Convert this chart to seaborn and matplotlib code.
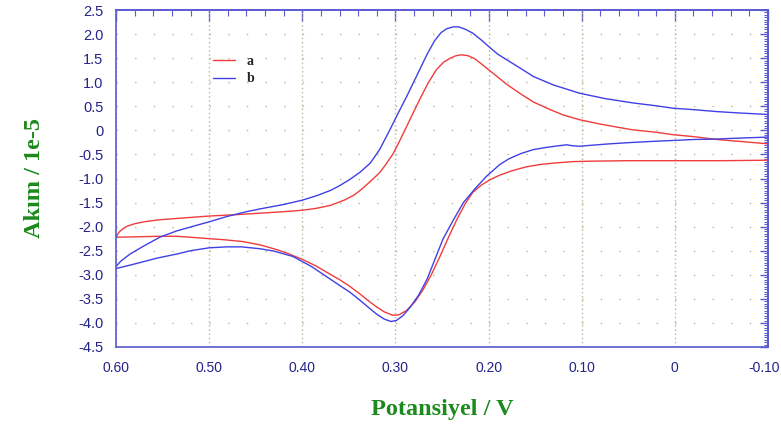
import numpy as np
import pandas as pd
import matplotlib
matplotlib.use("Agg")
import matplotlib.pyplot as plt
from matplotlib.ticker import FixedLocator, MultipleLocator, FixedFormatter
from matplotlib.transforms import ScaledTranslation
import seaborn as sns

# ---- data (potential V, current x1e-5 A) ----
a_V = [0.600, 0.597, 0.593, 0.588, 0.580, 0.570, 0.555, 0.535, 0.500, 0.470, 0.445, 0.420,
       0.400, 0.385, 0.370, 0.355, 0.345, 0.338, 0.328, 0.317, 0.310, 0.302, 0.295, 0.288,
       0.281, 0.274, 0.265, 0.256, 0.248, 0.241, 0.235, 0.229, 0.222, 0.215, 0.209, 0.200,
       0.191, 0.180, 0.165, 0.152, 0.135, 0.120, 0.102, 0.080, 0.060, 0.045, 0.020, 0.002,
       -0.020, -0.045, -0.070, -0.100,
       -0.100, -0.050, 0.000, 0.050, 0.090, 0.110, 0.130, 0.145, 0.160, 0.175, 0.188, 0.198,
       0.208, 0.217, 0.225, 0.234, 0.243, 0.252, 0.261, 0.270, 0.279, 0.288, 0.296, 0.303,
       0.312, 0.320, 0.327, 0.338, 0.349, 0.360, 0.370, 0.385, 0.400, 0.415, 0.427, 0.445,
       0.464, 0.485, 0.500, 0.520, 0.535, 0.555, 0.575, 0.600]
a_I = [-2.22, -2.12, -2.05, -1.99, -1.94, -1.90, -1.86, -1.83, -1.78, -1.75, -1.72, -1.69,
       -1.66, -1.62, -1.56, -1.45, -1.35, -1.25, -1.08, -0.88, -0.70, -0.47, -0.20, 0.08,
       0.36, 0.64, 0.98, 1.26, 1.42, 1.50, 1.55, 1.57, 1.55, 1.49, 1.40, 1.26,
       1.12, 0.95, 0.75, 0.59, 0.44, 0.32, 0.22, 0.13, 0.06, 0.01, -0.04, -0.09,
       -0.13, -0.19, -0.23, -0.28,
       -0.62, -0.63, -0.63, -0.63, -0.64, -0.65, -0.68, -0.71, -0.76, -0.84, -0.93, -1.02,
       -1.14, -1.29, -1.52, -1.85, -2.22, -2.61, -2.98, -3.30, -3.56, -3.74, -3.83, -3.84,
       -3.77, -3.67, -3.57, -3.40, -3.24, -3.10, -2.99, -2.82, -2.68, -2.56, -2.48, -2.38,
       -2.31, -2.27, -2.25, -2.22, -2.20, -2.20, -2.21, -2.22]

b_V = [0.600, 0.595, 0.585, 0.570, 0.553, 0.535, 0.515, 0.500, 0.481, 0.460, 0.445, 0.420,
       0.400, 0.385, 0.370, 0.360, 0.349, 0.338, 0.327, 0.317, 0.306, 0.297, 0.288, 0.281,
       0.274, 0.266, 0.258, 0.251, 0.245, 0.238, 0.232, 0.225, 0.217, 0.208, 0.198, 0.190,
       0.180, 0.165, 0.152, 0.130, 0.102, 0.075, 0.045, 0.020, 0.002, -0.020, -0.045, -0.070,
       -0.100,
       -0.100, -0.070, -0.045, -0.020, 0.002, 0.025, 0.045, 0.070, 0.090, 0.102, 0.110, 0.116,
       0.125, 0.140, 0.152, 0.165, 0.178, 0.188, 0.202, 0.214, 0.227, 0.238, 0.249, 0.258,
       0.266, 0.275, 0.284, 0.292, 0.299, 0.305, 0.312, 0.320, 0.327, 0.338, 0.349, 0.360,
       0.370, 0.390, 0.410, 0.430, 0.445, 0.465, 0.481, 0.500, 0.520, 0.535, 0.555, 0.571,
       0.585, 0.600]
b_I = [-2.83, -2.72, -2.57, -2.40, -2.22, -2.09, -1.98, -1.90, -1.79, -1.69, -1.63, -1.54,
       -1.45, -1.36, -1.25, -1.15, -1.02, -0.87, -0.68, -0.40, 0.01, 0.36, 0.70, 0.98,
       1.26, 1.58, 1.86, 2.03, 2.11, 2.15, 2.15, 2.10, 2.02, 1.88, 1.71, 1.58,
       1.46, 1.28, 1.12, 0.94, 0.77, 0.66, 0.57, 0.51, 0.46, 0.43, 0.39, 0.36,
       0.33,
       -0.14, -0.16, -0.18, -0.19, -0.21, -0.23, -0.25, -0.28, -0.31, -0.33, -0.32, -0.30,
       -0.32, -0.36, -0.40, -0.48, -0.59, -0.71, -0.95, -1.20, -1.50, -1.87, -2.26, -2.70,
       -3.09, -3.42, -3.67, -3.85, -3.95, -3.97, -3.92, -3.82, -3.71, -3.53, -3.36, -3.22,
       -3.09, -2.83, -2.62, -2.51, -2.46, -2.42, -2.42, -2.44, -2.50, -2.57, -2.65, -2.73,
       -2.80, -2.87]

x_ticks = [0.60, 0.50, 0.40, 0.30, 0.20, 0.10, 0.0, -0.10]
x_tick_labels = ["0.60", "0.50", "0.40", "0.30", "0.20", "0.10", "0", "-0.10"]
y_ticks = [2.5, 2.0, 1.5, 1.0, 0.5, 0.0, -0.5, -1.0, -1.5, -2.0, -2.5, -3.0, -3.5, -4.0, -4.5]
y_tick_labels = ["2.5", "2.0", "1.5", "1.0", "0.5", "0", "-0.5", "-1.0", "-1.5", "-2.0",
                 "-2.5", "-3.0", "-3.5", "-4.0", "-4.5"]
series_names = ["a", "b"]

df = pd.concat([
    pd.DataFrame({"V": a_V, "I": a_I, "series": series_names[0]}),
    pd.DataFrame({"V": b_V, "I": b_I, "series": series_names[1]}),
], ignore_index=True)

sns.set_theme(style="white")
plt.rcParams['font.family'] = ['Liberation Sans', 'DejaVu Sans']

fig = plt.figure(figsize=(7.81, 4.26), dpi=100)
ax = fig.add_axes([116/781, 1-347/426, (768-116)/781, (347-10)/426])

spine_c = "#5a5ad2"
label_c = "#23238c"
grid_c = "#b8b89a"

sns.lineplot(data=df, x="V", y="I", hue="series", sort=False, estimator=None,
             palette={"a": "#f03c3c", "b": "#4040e6"}, linewidth=1.0, ax=ax)

ax.set_xlim(0.60, -0.10)
ax.set_ylim(-4.5, 2.5)

ax.xaxis.set_major_locator(FixedLocator(x_ticks))
ax.xaxis.set_major_formatter(FixedFormatter(x_tick_labels))
ax.xaxis.set_minor_locator(MultipleLocator(0.02))
ax.yaxis.set_major_locator(FixedLocator(y_ticks))
ax.yaxis.set_major_formatter(FixedFormatter(y_tick_labels))
ax.yaxis.set_minor_locator(MultipleLocator(0.05))

ax.tick_params(axis="both", which="major", direction="out", length=6, width=1,
               color=spine_c, labelcolor=label_c)
ax.tick_params(axis="x", which="major", labelsize=10, pad=4)
ax.tick_params(axis="y", which="major", labelsize=10.5, pad=3)
ax.tick_params(axis="both", which="minor", direction="out", length=3, width=0.8,
               color=spine_c)

for s in ax.spines.values():
    s.set_color(spine_c)
    s.set_linewidth(1.2)
    s.set_visible(True)

# mirrored inward ticks on top and right
secx = ax.secondary_xaxis("top")
secx.xaxis.set_major_locator(FixedLocator(x_ticks))
secx.xaxis.set_minor_locator(MultipleLocator(0.02))
secx.tick_params(which="major", direction="in", length=8, width=1, color=spine_c, labeltop=False)
secx.tick_params(which="minor", direction="in", length=4, width=0.8, color=spine_c)
secx.spines["top"].set_color(spine_c)
secx.spines["top"].set_linewidth(1.2)

secy = ax.secondary_yaxis("right")
secy.yaxis.set_major_locator(FixedLocator(y_ticks))
secy.yaxis.set_minor_locator(MultipleLocator(0.05))
secy.tick_params(which="major", direction="in", length=6, width=1, color=spine_c, labelright=False)
secy.tick_params(which="minor", direction="in", length=3, width=0.8, color=spine_c)
secy.spines["right"].set_color(spine_c)
secy.spines["right"].set_linewidth(1.2)

# grid: dotted verticals at major x, sparse dots on major y
ax.xaxis.grid(True, which="major", color=grid_c, linestyle=(0, (1, 2)), linewidth=1)
ax.yaxis.grid(True, which="major", color=grid_c, linestyle=(0, (1, 12.41)), linewidth=1)
ax.set_axisbelow(True)

ax.set_xlabel("Potansiyel / V", fontsize=17.5, fontweight="bold", color="#1d8a1d",
              family=["Liberation Serif"], labelpad=17)
ax.set_ylabel("Akım / 1e-5", fontsize=17.5, fontweight="bold", color="#1d8a1d",
              family=["Liberation Serif"], labelpad=24)

leg = ax.legend(loc="upper left", bbox_to_anchor=(0.13, 0.905), frameon=False,
                handlelength=1.6, handletextpad=0.8, labelspacing=0.35,
                prop={"family": "Liberation Serif", "weight": "bold", "size": 10})

fig.canvas.draw()
last = ax.xaxis.get_majorticklabels()[-1]
last.set_transform(last.get_transform() + ScaledTranslation(-4/100, 0, fig.dpi_scale_trans))

fig.savefig("out.png", dpi=100, facecolor="white")
